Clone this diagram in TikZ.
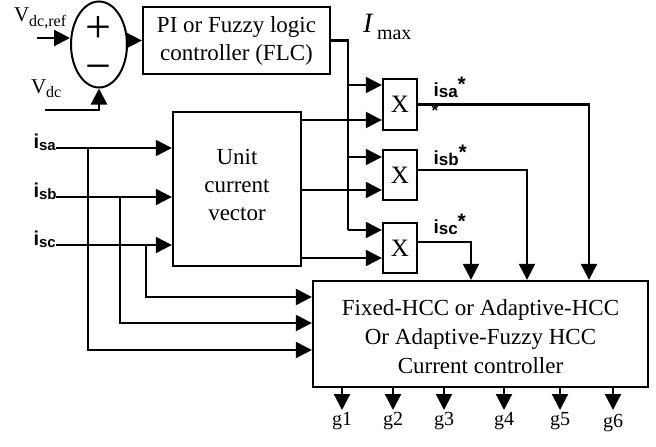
\documentclass[tikz,border=0pt]{standalone}
\usepackage{fontspec}
\setmainfont{Liberation Serif}
\newfontfamily\hvfont{Liberation Sans}
\usetikzlibrary{arrows.meta,shapes.geometric}
\newcommand\inlbl[1]{{\hvfont\bfseries\fontsize{20}{20}\selectfont i\raisebox{-2pt}{\fontsize{15}{15}\selectfont #1}}}
\newcommand\reflbl[1]{{\hvfont\bfseries\fontsize{19}{19}\selectfont i\raisebox{-1.5pt}{\fontsize{17}{17}\selectfont #1}\raisebox{5pt}{\fontsize{21}{21}\selectfont *}}}
\begin{document}
\begin{tikzpicture}[x=1pt,y=-1pt,
  line width=2.1pt,
  arr/.style={-{Triangle[length=16pt,width=16pt]}},
  blk/.style={draw,line width=2.3pt,inner sep=0pt,align=center,font=\fontsize{23}{28}\selectfont},
  lbl/.style={inner sep=0pt},
  txt/.style={inner sep=0pt,align=center,font=\fontsize{23}{28}\selectfont},
  glbl/.style={inner sep=0pt,anchor=base,font=\fontsize{20}{20}\selectfont},
]
\useasboundingbox (0,0) rectangle (656,447);

% summing junction
\node[draw,ellipse,line width=2pt,minimum width=56pt,minimum height=86pt,inner sep=0pt] (ell) at (99,44.5) {};
\node[lbl,anchor=south,align=center,font=\fontsize{46}{39}\selectfont] (signs) at (98.8,83) {+\\−};

% blocks
\node[blk,minimum width=187pt,minimum height=67pt] (pi) at (236.5,40.5) {PI or Fuzzy logic\\controller (FLC)};
\node[blk,minimum width=128pt,minimum height=154pt] (unit) at (237,189) {};
\node[txt] (unittxt) at (237,185) {Unit\\current\\vector};
\node[blk,minimum width=34pt,minimum height=51pt,font=\fontsize{25}{25}\selectfont] (x1) at (400,104.5) {X};
\node[blk,minimum width=34pt,minimum height=50pt,font=\fontsize{25}{25}\selectfont] (x2) at (400,175) {X};
\node[blk,minimum width=34pt,minimum height=50pt,font=\fontsize{25}{25}\selectfont] (x3) at (400,248) {X};
\node[blk,minimum width=335pt,minimum height=106pt] (main) at (480.5,334) {};
\node[txt,font=\fontsize{23}{29}\selectfont] (maintxt) at (480.5,337) {Fixed-HCC or Adaptive-HCC\\Or Adaptive-Fuzzy HCC\\Current controller};

% labels
\node[lbl,anchor=base west] (vref) at (13,21) {\fontsize{21}{21}\selectfont V\raisebox{-5pt}{\fontsize{16}{16}\selectfont dc,ref}};
\node[lbl,anchor=base west] (vdc) at (30,93) {\fontsize{21}{21}\selectfont V\raisebox{-4pt}{\fontsize{16}{16}\selectfont dc}};
\node[lbl,anchor=base west] (imax) at (362,32) {\fontsize{28}{28}\selectfont\itshape I\upshape\,\raisebox{-7pt}{\fontsize{20}{20}\selectfont max}};
\node[lbl,anchor=base west] (isaref) at (432.5,96) {\reflbl{sa}};
\node[lbl,font=\hvfont\bfseries\fontsize{17}{17}\selectfont] (extrastar) at (435,111) {*};
\node[lbl,anchor=base west] (isbref) at (432.5,164) {\reflbl{sb}};
\node[lbl,anchor=base west] (iscref) at (432.5,233) {\reflbl{sc}};
\node[lbl,anchor=base west] (isa) at (32.5,148) {\inlbl{sa}};
\node[lbl,anchor=base west] (isb) at (32.5,197) {\inlbl{sb}};
\node[lbl,anchor=base west] (isc) at (32.5,245) {\inlbl{sc}};
\node[glbl] (g1) at (342,425) {g1};
\node[glbl] (g2) at (393,425) {g2};
\node[glbl] (g3) at (444,425) {g3};
\node[glbl] (g4) at (504,425) {g4};
\node[glbl] (g5) at (560,425) {g5};
\node[glbl] (g6) at (613,427) {g6};

% coordinates
\coordinate (vrefin) at (37,38);
\coordinate (vdcin) at (45,110);
\coordinate (b1) at (348,85);
\coordinate (b2) at (348,157);
\coordinate (b3) at (348,230);
\coordinate (u1) at (301,120);
\coordinate (u2) at (301,190);
\coordinate (u3) at (301,258);
\coordinate (t1) at (589,0);
\coordinate (t2) at (527,0);
\coordinate (t3) at (471,0);
\coordinate (ina) at (56,148);
\coordinate (inb) at (56,197);
\coordinate (inc) at (56,245);
\coordinate (ja) at (88,148);
\coordinate (jb) at (120,197);
\coordinate (jc) at (146,245);
\coordinate (ya) at (0,350);
\coordinate (yb) at (0,323);
\coordinate (yc) at (0,297);
\coordinate (gy) at (0,410);

% connectors
\draw[arr] (vrefin) -- (vrefin -| ell.west);
\draw[arr] (vdcin) -| (ell.south);
\draw[arr] (ell.east |- pi.west) -- (pi.west);
\draw (pi.east) -| (b3);
\draw[arr] (b1) -- (b1 -| x1.west);
\draw[arr] (b2) -- (b2 -| x2.west);
\draw[arr] (b3) -- (b3 -| x3.west);
\draw[arr] (u1) -- (u1 -| x1.west);
\draw[arr] (u2) -- (u2 -| x2.west);
\draw[arr] (u3) -- (u3 -| x3.west);
\draw[arr] (x1.east) -| (t1 |- main.north);
\draw[arr] ([yshift=5pt]x2.east) -| (t2 |- main.north);
\draw[arr] ([yshift=6pt]x3.east) -| (t3 |- main.north);
\draw[arr] (ina) -- (ina -| unit.west);
\draw[arr] (inb) -- (inb -| unit.west);
\draw[arr] (inc) -- (inc -| unit.west);
\draw[arr] (ja) |- (ya -| main.west);
\draw[arr] (jb) |- (yb -| main.west);
\draw[arr] (jc) |- (yc -| main.west);
\foreach \g in {g1,g2,g3,g4,g5,g6}
  \draw[arr] (main.south -| \g) -- (gy -| \g);
\end{tikzpicture}
\end{document}
